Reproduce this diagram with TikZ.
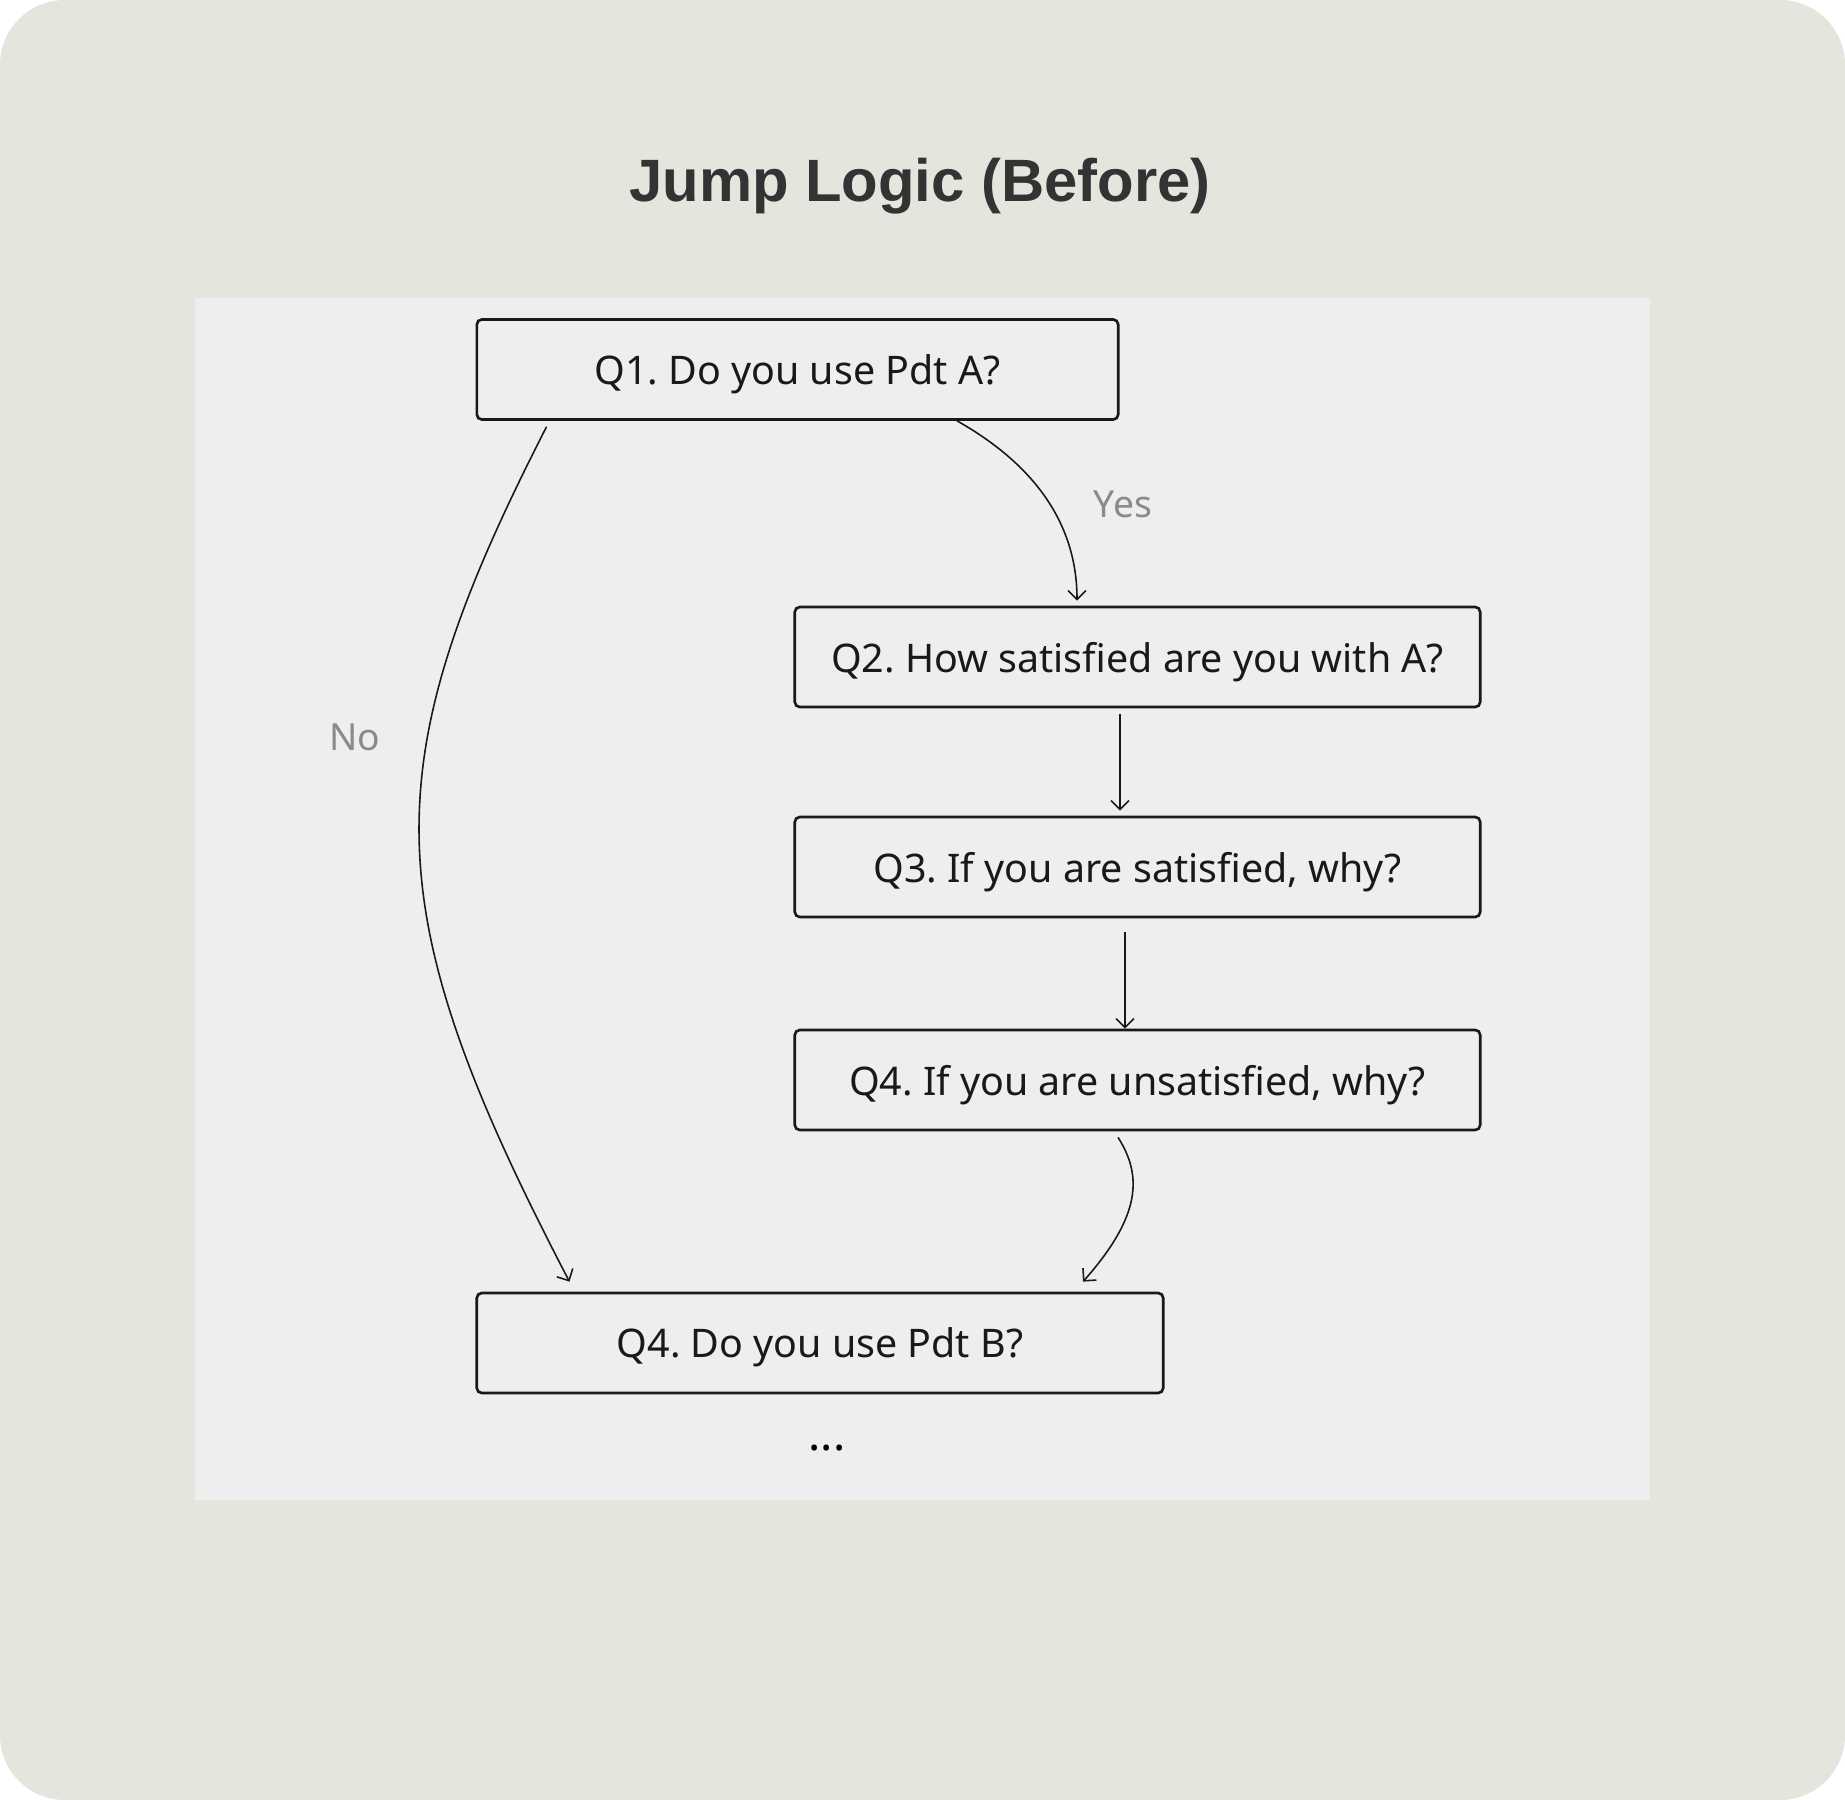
\documentclass[tikz,border=0pt]{standalone}
\usepackage{fontspec}
\setmainfont{Noto Sans}
\newfontfamily\titlefont{Liberation Sans}
\usetikzlibrary{calc,arrows.meta}
\frenchspacing

\definecolor{outerbg}{HTML}{E5E4DD}
\definecolor{panelgray}{HTML}{EEEEEE}
\definecolor{labelgray}{HTML}{8A8A8A}
\definecolor{titlegray}{HTML}{333333}

\begin{document}
\begin{tikzpicture}[x=0.01cm,y=-0.01cm,
    qbox/.style={draw=black!90,line width=0.75pt,rounded corners=0.05cm,fill=panelgray,
      minimum height=1cm,inner sep=0pt,text depth=0pt,text=black!90,font=\fontsize{11.2}{14}\selectfont},
    link/.style={line width=0.45pt,draw=black!90,-{Straight Barb[length=0.9mm,width=1.8mm]}},
    answer/.style={text=labelgray,font=\fontsize{10.6}{13}\selectfont}]
    % background and panel
    \fill[white] (0,0) rectangle (1845,1800);
    \fill[outerbg,rounded corners=0.65cm] (0,0) rectangle (1845,1800);
    \fill[panelgray] (195,298) rectangle (1650,1500);
    \node[text=titlegray,font=\titlefont\bfseries\fontsize{17}{21}\selectfont] (title) at (920,186.5) {Jump Logic (Before)};
    % questions
    \node[qbox,minimum width=6.41cm] (q1) at (797.5,369.5) {Q1. Do you use Pdt A?};
    \node[qbox,minimum width=6.85cm] (q2) at (1137.5,657) {Q2. How satisfied are you with A?};
    \node[qbox,minimum width=6.85cm] (q3) at (1137.5,867) {Q3. If you are satisfied, why?};
    \node[qbox,minimum width=6.85cm] (q4a) at (1137.5,1080) {Q4. If you are unsatisfied, why?};
    \node[qbox,minimum width=6.86cm] (q4b) at (820,1343) {Q4. Do you use Pdt B?};
    \node[font=\bfseries\fontsize{13}{15}\selectfont] (more) at (827,1448) {...};
    % jumps
    \draw[link] ($(q1.south west)+(71,6)$) .. controls (373,766) and (373,905) .. ($(q4b.north west)+(94,-10)$);
    \node[answer] (no) at (355,737) {No};
    \draw[link] ($(q1.south)+(159.5,0)$) .. controls (1030,462) and (1077,520) .. ($(q2.north)+(-60.5,-5)$);
    \node[answer] (yes) at (1123,504) {Yes};
    \draw[link] ($(q2.south)+(-17.5,6)$) -- ($(q3.north)+(-17.5,-5)$);
    \draw[link] ($(q3.south)+(-12.5,14)$) -- ($(q4a.north)+(-12.5,0)$);
    \draw[link] ($(q4a.south)+(-19.5,6)$) .. controls (1142,1175) and (1142,1215) .. ($(q4b.north)+(263,-10)$);
\end{tikzpicture}
\end{document}
